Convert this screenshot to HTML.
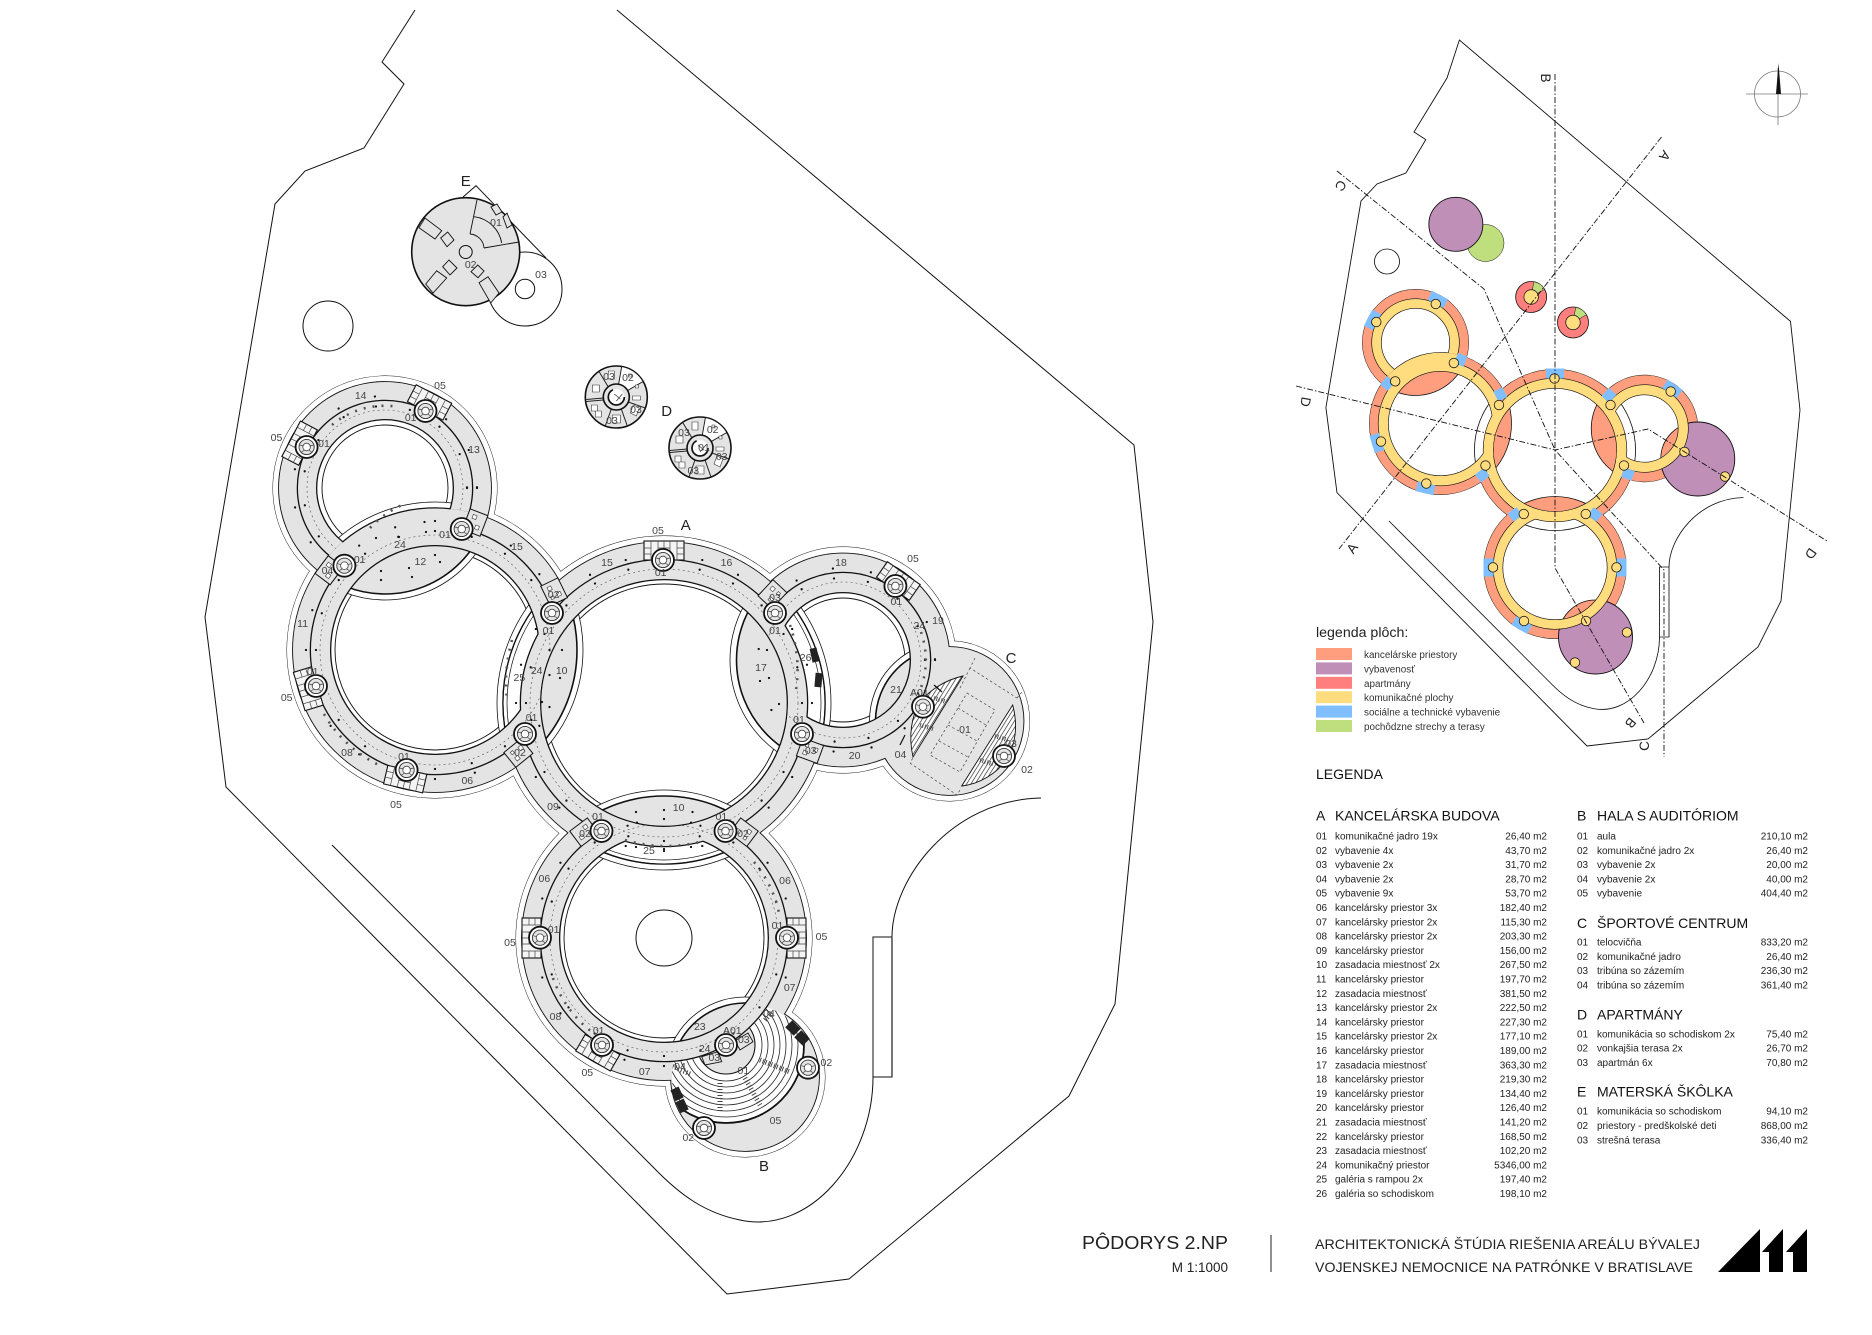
<!DOCTYPE html>
<html lang="sk"><head><meta charset="utf-8"><title>Pôdorys 2.NP</title>
<style>
html,body{margin:0;padding:0;background:#fff}
svg{display:block}
text{font-family:"Liberation Sans",sans-serif}
.l{font-size:10.5px;fill:#444;text-anchor:middle}
.b{font-size:15px;fill:#222;text-anchor:middle}
.r{font-size:10px;fill:#222}
.e{font-size:10px;fill:#222;text-anchor:end}
.h{font-size:14px;fill:#111}
.k{font-size:9.9px;fill:#333}
.s{font-size:13.5px;fill:#222;text-anchor:middle}
</style></head><body>
<svg xmlns="http://www.w3.org/2000/svg" width="1872" height="1335" viewBox="0 0 1872 1335">
<defs>
<mask id="nA" maskUnits="userSpaceOnUse" x="-100" y="-300" width="2100" height="1800"><rect x="-100" y="-300" width="2100" height="1800" fill="#fff"/><circle cx="435" cy="650" r="142"/><circle cx="664" cy="938" r="142"/><circle cx="843" cy="660" r="106.5"/></mask>
<mask id="nL" maskUnits="userSpaceOnUse" x="-100" y="-300" width="2100" height="1800"><rect x="-100" y="-300" width="2100" height="1800" fill="#fff"/><circle cx="664" cy="703" r="161"/><circle cx="385" cy="488" r="106"/></mask>
<mask id="nB" maskUnits="userSpaceOnUse" x="-100" y="-300" width="2100" height="1800"><rect x="-100" y="-300" width="2100" height="1800" fill="#fff"/><circle cx="664" cy="703" r="161"/><circle cx="745" cy="1077" r="74"/></mask>
<mask id="nU" maskUnits="userSpaceOnUse" x="-100" y="-300" width="2100" height="1800"><rect x="-100" y="-300" width="2100" height="1800" fill="#fff"/><circle cx="435" cy="650" r="142"/></mask>
<mask id="nR" maskUnits="userSpaceOnUse" x="-100" y="-300" width="2100" height="1800"><rect x="-100" y="-300" width="2100" height="1800" fill="#fff"/><circle cx="664" cy="703" r="161"/><circle cx="949.5" cy="721" r="74"/></mask>
<mask id="tA" maskUnits="userSpaceOnUse" x="-100" y="-300" width="2100" height="1800"><rect x="-100" y="-300" width="2100" height="1800" fill="#fff"/><circle cx="435" cy="650" r="148"/><circle cx="664" cy="938" r="148"/><circle cx="843" cy="660" r="113"/></mask>
<mask id="tL" maskUnits="userSpaceOnUse" x="-100" y="-300" width="2100" height="1800"><rect x="-100" y="-300" width="2100" height="1800" fill="#fff"/><circle cx="664" cy="703" r="167"/><circle cx="385" cy="488" r="112"/></mask>
<mask id="tB" maskUnits="userSpaceOnUse" x="-100" y="-300" width="2100" height="1800"><rect x="-100" y="-300" width="2100" height="1800" fill="#fff"/><circle cx="664" cy="703" r="167"/><circle cx="745" cy="1077" r="80"/></mask>
<mask id="tU" maskUnits="userSpaceOnUse" x="-100" y="-300" width="2100" height="1800"><rect x="-100" y="-300" width="2100" height="1800" fill="#fff"/><circle cx="435" cy="650" r="148"/></mask>
<mask id="tR" maskUnits="userSpaceOnUse" x="-100" y="-300" width="2100" height="1800"><rect x="-100" y="-300" width="2100" height="1800" fill="#fff"/><circle cx="664" cy="703" r="167"/><circle cx="949.5" cy="721" r="80"/></mask>
<mask id="cor" maskUnits="userSpaceOnUse" x="-100" y="-300" width="2100" height="1800"><rect x="-100" y="-300" width="2100" height="1800" fill="#fff"/><circle cx="664" cy="703" r="124"/></mask>
<mask id="corU" maskUnits="userSpaceOnUse" x="-100" y="-300" width="2100" height="1800"><rect x="-100" y="-300" width="2100" height="1800" fill="#fff"/><circle cx="435" cy="650" r="142"/></mask>
<mask id="aud" maskUnits="userSpaceOnUse" x="-100" y="-300" width="2100" height="1800"><rect x="-100" y="-300" width="2100" height="1800" fill="#fff"/><circle cx="664" cy="938" r="124.5"/></mask>
<clipPath id="cA"><circle cx="664" cy="703" r="124"/></clipPath>
<clipPath id="cL"><circle cx="435" cy="650" r="105"/></clipPath>
<clipPath id="cB"><circle cx="664" cy="938" r="105"/></clipPath>
<clipPath id="cU"><circle cx="385" cy="488" r="69"/></clipPath>
<clipPath id="cR"><circle cx="843" cy="660" r="68"/></clipPath>
<clipPath id="gal"><circle cx="435" cy="650" r="105"/><circle cx="664" cy="938" r="105"/><circle cx="843" cy="660" r="68"/></clipPath>
<clipPath id="pU"><circle cx="385" cy="488" r="87"/></clipPath>
<clipPath id="hall"><circle cx="745" cy="1077" r="73"/></clipPath>
<pattern id="hat" patternUnits="userSpaceOnUse" width="3.6" height="3.6" patternTransform="rotate(-58)"><rect width="3.6" height="3.6" fill="#fff"/><rect width="3.6" height="0.7" fill="#333"/></pattern>
<g id="core"><circle r="11" fill="#fff" stroke="#111" stroke-width="1.8"/><circle r="7.6" fill="#e4e4e4" stroke="#333" stroke-width="0.9"/><circle r="3.8" fill="#fff" stroke="#444" stroke-width="0.8"/><path d="M-7,-2L-3,-1M7,-2L3,-1M-5,5L-2,3M5,5L2,3" stroke="#444" stroke-width="0.7"/></g>
<g id="w05"><rect x="0" y="-20" width="19" height="40" fill="#f4f4f4" stroke="#111" stroke-width="1.1"/><path d="M0,-13H19M0,-6H19M0,6H19M0,13H19M6,-20V-13M12,-20V-13M6,-6V6M12,-6V6M6,13V20M12,13V20M0,0H19" stroke="#444" stroke-width="0.7" fill="none"/></g>
<g id="w02"><rect x="0" y="-11" width="19" height="22" fill="#e4e4e4" stroke="#111" stroke-width="1"/><path d="M5,-7h4v4h-4zM11,2h4v4h-4zM4,3h3v3h-3z" fill="#fff" stroke="#333" stroke-width="0.6"/></g>
<rect id="kw05" x="0" y="-18" width="20" height="36" fill="#7FBFFF"/>
<rect id="kw02" x="0" y="-11" width="20" height="22" fill="#7FBFFF"/>
<circle id="kc" r="9.5" fill="#FFDD7F" stroke="#111" stroke-width="1.6"/>
<g id="apt"><circle r="31" fill="#e4e4e4" stroke="#111" stroke-width="1.6"/>
<path d="M5.4,-30.5A31,31 0 0 1 26.8,-15.5L11.3,-6.5A13,13 0 0 0 2.3,-12.8Z" fill="#fff" stroke="#111" stroke-width="0.9"/>
<path d="M12,5L29,11M5,12L11,29M-5,12L-11,29M-13,1L-30,2.5M-13,3L-30,4.5M-8,-10L-17,-25" stroke="#222" stroke-width="1" fill="none"/>
<path d="M-24,-12h7v7h-7zM-25,8h6v6h-6zM-21,14h6v6h-6zM-8,-26h6v8h-6zM-4,18h8v8h-8zM16,-1h8v4h-8zM17,8l6,3l-3,8l-6,-3zM12,-23h3v3h-3zM19,-12h3v3h-3z" fill="#fff" stroke="#333" stroke-width="0.6"/>
<circle r="13" fill="#e4e4e4" stroke="#111" stroke-width="1.6"/><circle r="8" fill="#fff" stroke="#111" stroke-width="1.7" stroke-dasharray="34 16"/><path d="M-2,-3L4,2M0,4L6,-3" stroke="#333" stroke-width="0.7"/></g>
</defs>
<rect width="1872" height="1335" fill="#fff"/>

<g fill="none" stroke="#111" stroke-width="1">
<path d="M415,10L382,62L404,84L364,148L305,171L275,204L205,617L226,787L727,1294L849,1279L1069,1096L1115,1004L1153,622L1134,445L617,10"/>
<path d="M332,845L653,1167C680,1195 705,1213 740,1220C810,1235 873,1160 873,1077V937H892V1077H873M892,937C892,880 950,800 1041,798"/>
<circle cx="328" cy="326" r="25"/>
</g>
<path d="M892,938V1076" stroke="#777" stroke-width="2" fill="none"/>

<path d="M463,197L476,185.7L546,258" fill="none" stroke="#111"/>
<circle cx="525" cy="289" r="37" fill="#fff" stroke="#111"/>
<circle cx="525" cy="289" r="9.7" fill="#fff" stroke="#111"/>
<circle cx="465.7" cy="251.7" r="54" fill="#e4e4e4" stroke="#111" stroke-width="1.6"/>
<path d="M477,200L470,234M484,248L519,242M474,216.7A32,32 0 0 1 501.7,243M470,234A15,15 0 0 1 484,248" fill="none" stroke="#111" stroke-width="0.9"/>
<g fill="#e4e4e4" stroke="#111" stroke-width="0.9"><path d="M419,227.7L425,218L441.7,230.7L435,239Z"/><path d="M425.7,284L436.7,270.7L446.7,278L433,293Z"/><path d="M479,282.7L488,276.7L499,293L490.7,303Z"/><path d="M440.7,238L447.7,232L454,240L447,246.7Z"/><path d="M442.7,266.7L449,260L457,268L450,275Z"/><path d="M471,271.7L477.7,265L484,271L478,277.7Z"/><path d="M491,207L497,204L502,212L496,215Z"/><path d="M503,217L507,213L512,225L507,228Z"/></g>
<circle cx="465.7" cy="252" r="6.5" fill="#e4e4e4" stroke="#111"/>
<use href="#apt" x="616.3" y="397"/><use href="#apt" x="700" y="448"/>

<g fill="#fff" stroke="#111" stroke-width="0.9"><circle cx="664" cy="703" r="167"/><circle cx="435" cy="650" r="148"/><circle cx="664" cy="938" r="148"/><circle cx="385" cy="488" r="112"/><circle cx="843" cy="660" r="113"/><circle cx="745" cy="1077" r="80"/><circle cx="949.5" cy="721" r="80"/></g>
<g fill="#fff"><circle cx="664" cy="703" r="167"/><circle cx="435" cy="650" r="148"/><circle cx="664" cy="938" r="148"/><circle cx="385" cy="488" r="112"/><circle cx="843" cy="660" r="113"/><circle cx="745" cy="1077" r="80"/><circle cx="949.5" cy="721" r="80"/></g>
<g fill="#e4e4e4" stroke="#111" stroke-width="1.8"><circle cx="664" cy="703" r="161"/><circle cx="435" cy="650" r="142"/><circle cx="664" cy="938" r="142"/><circle cx="385" cy="488" r="106"/><circle cx="843" cy="660" r="106.5"/><circle cx="745" cy="1077" r="74"/><circle cx="949.5" cy="721" r="74"/></g>
<g fill="#e4e4e4"><circle cx="664" cy="703" r="161"/><circle cx="435" cy="650" r="142"/><circle cx="664" cy="938" r="142"/><circle cx="385" cy="488" r="106"/><circle cx="843" cy="660" r="106.5"/><circle cx="745" cy="1077" r="74"/><circle cx="949.5" cy="721" r="74"/></g>
<g clip-path="url(#cA)"><rect x="500" y="560" width="330" height="290" fill="#fff" mask="url(#nA)"/><g fill="none"><g stroke="#111" stroke-width="0.8"><circle cx="435" cy="650" r="148"/><circle cx="664" cy="938" r="148"/><circle cx="843" cy="660" r="113"/></g><g stroke="#111" stroke-width="1.6"><circle cx="435" cy="650" r="142"/><circle cx="664" cy="938" r="142"/><circle cx="843" cy="660" r="106.5"/></g></g></g>
<g clip-path="url(#cL)"><rect x="320" y="530" width="230" height="240" fill="#fff" mask="url(#nL)"/><g fill="none"><g stroke="#111" stroke-width="0.8"><circle cx="664" cy="703" r="167"/><circle cx="385" cy="488" r="112"/></g><g stroke="#111" stroke-width="1.6"><circle cx="664" cy="703" r="161"/><circle cx="385" cy="488" r="106"/></g></g></g>
<g clip-path="url(#cB)"><rect x="550" y="820" width="230" height="230" fill="#fff" mask="url(#nB)"/><g fill="none"><g stroke="#111" stroke-width="0.8"><circle cx="664" cy="703" r="167"/><circle cx="745" cy="1077" r="80"/></g><g stroke="#111" stroke-width="1.6"><circle cx="664" cy="703" r="161"/><circle cx="745" cy="1077" r="74"/></g></g></g>
<g clip-path="url(#cU)"><rect x="310" y="415" width="150" height="150" fill="#fff" mask="url(#nU)"/><g fill="none"><circle cx="435" cy="650" r="148" stroke="#111" stroke-width="0.8"/><circle cx="435" cy="650" r="142" stroke="#111" stroke-width="1.6"/></g></g>
<g clip-path="url(#cR)"><rect x="770" y="590" width="150" height="150" fill="#fff" mask="url(#nR)"/><g fill="none"><g stroke="#111" stroke-width="0.8"><circle cx="664" cy="703" r="167"/><circle cx="949.5" cy="721" r="80"/></g><g stroke="#111" stroke-width="1.6"><circle cx="664" cy="703" r="161"/><circle cx="949.5" cy="721" r="74"/></g></g></g>
<g fill="none" stroke="#111" stroke-width="0.9">
<circle cx="664" cy="703" r="119" mask="url(#tA)"/><circle cx="435" cy="650" r="100" mask="url(#tL)"/><circle cx="664" cy="938" r="100" mask="url(#tB)"/><circle cx="385" cy="488" r="63" mask="url(#tU)"/><circle cx="843" cy="660" r="62" mask="url(#tR)"/>
</g>
<g clip-path="url(#gal)"><circle cx="664" cy="703" r="152" fill="none" stroke="#fff" stroke-width="17"/><circle cx="664" cy="703" r="161" fill="none" stroke="#111" stroke-width="1.1"/><circle cx="664" cy="703" r="157" fill="none" stroke="#111" stroke-width="0.7"/></g>
<g fill="none" stroke="#111">
<circle cx="664" cy="703" r="133.5" stroke-width="21.6"/>
<circle cx="435" cy="650" r="114.5" stroke-width="21.6" mask="url(#cor)"/>
<circle cx="664" cy="938" r="114" stroke-width="20.6" mask="url(#cor)"/>
<circle cx="843" cy="660" r="77.5" stroke-width="21.6" mask="url(#cor)"/>
<circle cx="385" cy="488" r="78" stroke-width="20.6" mask="url(#corU)"/>
</g>
<g fill="none" stroke="#e4e4e4">
<circle cx="664" cy="703" r="133.5" stroke-width="19"/>
<circle cx="435" cy="650" r="114.5" stroke-width="19" mask="url(#cor)"/>
<circle cx="664" cy="938" r="114" stroke-width="18" mask="url(#cor)"/>
<circle cx="843" cy="660" r="77.5" stroke-width="19" mask="url(#cor)"/>
<circle cx="385" cy="488" r="78" stroke-width="18" mask="url(#corU)"/>
<circle cx="435" cy="650" r="123.5" stroke-width="36" clip-path="url(#pU)"/>
</g>
<g fill="none" stroke="#555" stroke-width="0.6" stroke-dasharray="2 3">
<circle cx="664" cy="703" r="134"/><circle cx="435" cy="650" r="115" mask="url(#cor)"/><circle cx="664" cy="938" r="114" mask="url(#cor)"/><circle cx="843" cy="660" r="78" mask="url(#cor)"/><circle cx="385" cy="488" r="78" mask="url(#corU)"/>
</g>
<g fill="none" stroke="#111" stroke-width="2.3" stroke-linecap="round">
<circle cx="664" cy="703" r="148" pathLength="360" stroke-dasharray="0 15"/><circle cx="664" cy="703" r="138" pathLength="360" stroke-dasharray="0 15"/>
<circle cx="435" cy="650" r="129" pathLength="360" stroke-dasharray="0 18" mask="url(#cor)"/><circle cx="435" cy="650" r="119" pathLength="360" stroke-dasharray="0 18" mask="url(#cor)"/>
<circle cx="664" cy="938" r="128" pathLength="360" stroke-dasharray="0 18" mask="url(#cor)"/><circle cx="664" cy="938" r="118" pathLength="360" stroke-dasharray="0 18" mask="url(#cor)"/>
<circle cx="843" cy="660" r="92" pathLength="360" stroke-dasharray="0 24" mask="url(#cor)"/><circle cx="843" cy="660" r="82" pathLength="360" stroke-dasharray="0 24" mask="url(#cor)"/>
<circle cx="385" cy="488" r="92" pathLength="360" stroke-dasharray="0 24" mask="url(#corU)"/><circle cx="385" cy="488" r="82" pathLength="360" stroke-dasharray="0 24" mask="url(#corU)"/>
<path d="M381,571h0M381,580h0M409,568h0M412,577h0M435,555h0M440,562h0M376,538h0M399,537h0M424.5,522h0M426,532h0M562,650h0M549.5,650h0M549.5,675h0M560,678h0M542,702h0M549.5,707h0M758.7,649h0M767,650h0M769,678h0M760,681h0M779,704h0M771.4,710h0M636,812h0M664,810h0M692.5,812h0M637,822.7h0M664,819h0M691,822.7h0M636,847h0M664,849h0M691,847h0"/>
</g>
<g fill="none" stroke="#555" stroke-width="2.6" stroke-dasharray="2 7">
<path d="M324,714A128,128 0 0 0 381,766"/><path d="M332,425A82,82 0 0 1 399,407"/><path d="M754,862A118,118 0 0 1 780,918"/><path d="M553,978A118,118 0 0 0 596,1035"/><path d="M921,632A83,83 0 0 1 918,695"/><path d="M512,640A157,157 0 0 0 507,700"/><path d="M790,625A135,135 0 0 1 796,690"/><path d="M625,840A143,143 0 0 0 700,842"/><path d="M370,528A100,100 0 0 1 402,505"/>
</g>
<g fill="#222"><rect x="811" y="648" width="7" height="14" transform="rotate(-12 815 655)"/><rect x="815" y="673" width="7" height="14" transform="rotate(5 818 680)"/></g>
<use href="#w05" transform="translate(385 488) rotate(-62.5) translate(87 0)"/>
<use href="#w05" transform="translate(385 488) rotate(207.7) translate(87 0)"/>
<use href="#w02" transform="translate(385 488) rotate(21) translate(87 0)"/>
<use href="#w02" transform="translate(435 650) rotate(217) translate(123 0)"/>
<use href="#w02" transform="translate(435 650) rotate(-26) translate(123 0)"/>
<use href="#w02" transform="translate(435 650) rotate(51) translate(123 0)"/>
<use href="#w05" transform="translate(435 650) rotate(163) translate(123 0)"/>
<use href="#w05" transform="translate(435 650) rotate(103) translate(123 0)"/>
<use href="#w05" transform="translate(664 703) rotate(-90) translate(143 0)"/>
<use href="#w05" transform="translate(843 660) rotate(-55) translate(87 0)"/>
<use href="#w02" transform="translate(843 660) rotate(223) translate(87 0)"/>
<use href="#w02" transform="translate(843 660) rotate(110) translate(87 0)"/>
<use href="#w02" transform="translate(664 938) rotate(233) translate(123 0)"/>
<use href="#w02" transform="translate(664 938) rotate(307) translate(123 0)"/>
<use href="#w05" transform="translate(664 938) rotate(180) translate(123 0)"/>
<use href="#w05" transform="translate(664 938) translate(123 0)"/>
<use href="#w05" transform="translate(664 938) rotate(120) translate(123 0)"/>

<g clip-path="url(#hall)"><g mask="url(#aud)">
<circle cx="726" cy="1045" r="78" fill="#fff" stroke="#111" stroke-width="1.8"/>
<g fill="none" stroke="#222" stroke-width="0.8"><circle cx="726" cy="1045" r="36"/><circle cx="726" cy="1045" r="42"/><circle cx="726" cy="1045" r="48"/><circle cx="726" cy="1045" r="54"/><circle cx="726" cy="1045" r="60"/><circle cx="726" cy="1045" r="66"/><circle cx="726" cy="1045" r="72"/></g>
<circle cx="726" cy="1045" r="29" fill="#e4e4e4" stroke="#111" stroke-width="1.1"/>
<g fill="none" stroke="#444" stroke-width="5" stroke-dasharray="1 2"><path d="M720,1083V1113"/><path d="M745,1078L760,1105"/><path d="M760,1060L790,1072"/><path d="M690,1074L672,1066"/><path d="M765,1020L772,1012"/></g>
</g></g>
<path d="M701.7,1056.7L718,1051.7L721.7,1061.7L705,1065ZM735,1040.7L748,1033L753,1041.7L740,1050Z" fill="#e4e4e4" stroke="#111" stroke-width="0.9"/>
<g fill="#222"><rect x="673" y="1088" width="9" height="12" transform="rotate(-25 677 1095)"/><rect x="678" y="1100" width="9" height="12" transform="rotate(-25 682 1107)"/><rect x="788" y="1022" width="10" height="12" transform="rotate(-45 793 1028)"/><rect x="797" y="1032" width="10" height="12" transform="rotate(-45 802 1038)"/></g>
<path d="M963,676C945,680 930,690 920,702C912,715 908,735 913,757Z" fill="url(#hat)" stroke="#111" stroke-width="0.9"/>
<path d="M1012.7,705C1018,725 1016,745 1006,760C997,773 980,784 961.7,786Z" fill="url(#hat)" stroke="#111" stroke-width="0.9"/>
<g fill="none" stroke="#444" stroke-width="0.7" stroke-dasharray="2.5 2.5">
<path d="M975,658L970,668L1017,698M910,763L957,795L960,790M970,668L960,688M920,745L910,763M967,693L995,710L960,772L930,755ZM958,708L986,725M948,725L977,741M939,741L968,757M1017,698L1022,692"/>
</g>
<path d="M934,685L942,692M905,735L900,745" stroke="#111" stroke-width="1.2" fill="none"/>
<g fill="none" stroke="#555" stroke-width="4.5" stroke-dasharray="1 1.5"><path d="M934,698L947,702"/><path d="M920,725L933,729"/><path d="M995,736L1008,740"/><path d="M980,760L993,764"/></g>
<use href="#core" x="425.5" y="411"/><use href="#core" x="306.6" y="447"/><use href="#core" x="461.7" y="529"/><use href="#core" x="344.4" y="565.7"/><use href="#core" x="552" y="613"/><use href="#core" x="663" y="560"/><use href="#core" x="775" y="613"/><use href="#core" x="895.4" y="586"/><use href="#core" x="923" y="706.7"/><use href="#core" x="802" y="734"/><use href="#core" x="525" y="734"/><use href="#core" x="406.6" y="770"/><use href="#core" x="316" y="686"/><use href="#core" x="601.5" y="831"/><use href="#core" x="725.5" y="831"/><use href="#core" x="540" y="937.7"/><use href="#core" x="787" y="937.7"/><use href="#core" x="602" y="1045"/><use href="#core" x="726" y="1045"/><use href="#core" x="808" y="1067.7"/><use href="#core" x="704" y="1128"/><use href="#core" x="1004" y="756"/>
<circle cx="664" cy="938" r="28" fill="#fff" stroke="#111"/>

<g>
<text class="l" x="440" y="389">05</text><text class="l" x="360.7" y="399">14</text><text class="l" x="474" y="453">13</text><text class="l" x="410.7" y="421">01</text><text class="l" x="276.5" y="441">05</text><text class="l" x="324" y="447">01</text><text class="l" x="420.4" y="565">12</text><text class="l" x="400" y="548">24</text><text class="l" x="445" y="538">01</text><text class="l" x="517" y="550">15</text><text class="l" x="359.7" y="563">01</text><text class="l" x="327.5" y="574">04</text><text class="l" x="607" y="566">15</text><text class="l" x="658" y="534">05</text><text class="l" x="726.5" y="566">16</text><text class="l" x="660.7" y="576">01</text><text class="l" x="553.6" y="598">02</text><text class="l" x="548.5" y="634">01</text><text class="l" x="775" y="601">03</text><text class="l" x="775" y="634">01</text><text class="l" x="841" y="566">18</text><text class="l" x="913" y="562">05</text><text class="l" x="896.4" y="605">01</text><text class="l" x="938" y="624">19</text><text class="l" x="919.4" y="629">24</text><text class="l" x="805.6" y="661">26</text><text class="l" x="761" y="671">17</text><text class="l" x="561.7" y="674">10</text><text class="l" x="536.7" y="674">24</text><text class="l" x="519.4" y="681">25</text><text class="l" x="302.6" y="627">11</text><text class="l" x="312.7" y="675">01</text><text class="l" x="286.7" y="701">05</text><text class="l" x="896" y="693">21</text><text class="l" x="919.4" y="696">A01</text><text class="l" x="531.6" y="721">01</text><text class="l" x="799" y="723">01</text><text class="l" x="520" y="756">02</text><text class="l" x="810.7" y="754">03</text><text class="l" x="347" y="756">08</text><text class="l" x="404" y="760">01</text><text class="l" x="467.3" y="784">06</text><text class="l" x="396" y="808">05</text><text class="l" x="854.6" y="759">20</text><text class="l" x="900.5" y="758">04</text><text class="l" x="965" y="733">01</text><text class="l" x="553" y="810">09</text><text class="l" x="678.6" y="811">10</text><text class="l" x="598" y="820">01</text><text class="l" x="721.4" y="820">01</text><text class="l" x="585" y="837">02</text><text class="l" x="743" y="837">02</text><text class="l" x="649" y="854">25</text><text class="l" x="544.4" y="882">06</text><text class="l" x="785" y="884">06</text><text class="l" x="777.5" y="929">01</text><text class="l" x="553.6" y="933">01</text><text class="l" x="821.5" y="940">05</text><text class="l" x="510" y="946">05</text><text class="l" x="789.7" y="991">07</text><text class="l" x="555.5" y="1020">08</text><text class="l" x="699.8" y="1030">23</text><text class="l" x="598.7" y="1034">01</text><text class="l" x="732.3" y="1034">A01</text><text class="l" x="769" y="1017">04</text><text class="l" x="743.8" y="1043">03</text><text class="l" x="704.7" y="1052">24</text><text class="l" x="714.3" y="1061">03</text><text class="l" x="826.4" y="1066">02</text><text class="l" x="680" y="1070">04</text><text class="l" x="743.4" y="1074">01</text><text class="l" x="644.7" y="1075">07</text><text class="l" x="587.3" y="1076">05</text><text class="l" x="775.5" y="1124">05</text><text class="l" x="688.3" y="1141">02</text><text class="l" x="496" y="226">01</text><text class="l" x="470.7" y="268">02</text><text class="l" x="541" y="278">03</text><text class="l" x="609" y="380">03</text><text class="l" x="628" y="381">02</text><text class="l" x="636" y="413">03</text><text class="l" x="612" y="424">03</text><text class="l" x="704" y="451">01</text><text class="l" x="712.7" y="433">02</text><text class="l" x="684" y="436">03</text><text class="l" x="721.7" y="460">03</text><text class="l" x="693.3" y="474">03</text><text class="l" x="1011" y="747">03</text><text class="l" x="1027" y="773">02</text>
<text class="b" x="685.7" y="530">A</text><text class="b" x="764" y="1171">B</text><text class="b" x="1011" y="663">C</text><text class="b" x="666.7" y="416">D</text><text class="b" x="465.7" y="186">E</text>
</g>

<path d="M1459.4,40L1447,78L1414,132L1425.8,139.6L1405.9,173L1377,184L1361,201L1325.9,407.6L1337,492.7L1587,746L1648,739L1758,647L1781,601L1800,410L1790.5,321.4Z" fill="none" stroke="#111" stroke-width="0.9"/>
<g transform="translate(1223 98.5) scale(.5)">
<path d="M332,845L653,1167C680,1195 705,1213 740,1220C810,1235 873,1160 873,1077V937H892V1077H873M892,937C892,880 950,800 1041,798" fill="none" stroke="#111" stroke-width="1.7"/>
<circle cx="328" cy="326" r="25" fill="#fff" stroke="#111" stroke-width="1.7"/>
<g fill="#FF9E7F" stroke="#111" stroke-width="1.8"><circle cx="664" cy="703" r="161"/><circle cx="435" cy="650" r="142"/><circle cx="664" cy="938" r="142"/><circle cx="385" cy="488" r="106"/><circle cx="843" cy="660" r="106.5"/></g>
<g fill="#FF9E7F"><circle cx="664" cy="703" r="161"/><circle cx="435" cy="650" r="142"/><circle cx="664" cy="938" r="142"/><circle cx="385" cy="488" r="106"/><circle cx="843" cy="660" r="106.5"/></g>
<g fill="#C08FB8" stroke="#111" stroke-width="1.8"><circle cx="745" cy="1077" r="74"/><circle cx="949.5" cy="721" r="74"/></g>
<g clip-path="url(#cB)"><circle cx="745" cy="1077" r="74" fill="#FF9E7F"/></g><g clip-path="url(#cR)"><circle cx="949.5" cy="721" r="74" fill="#FF9E7F"/></g>
<g clip-path="url(#cA)"><rect x="500" y="560" width="330" height="290" fill="#fff" mask="url(#nA)"/><g fill="none" stroke="#111" stroke-width="1.6"><circle cx="435" cy="650" r="142"/><circle cx="664" cy="938" r="142"/><circle cx="843" cy="660" r="106.5"/></g></g>
<g clip-path="url(#cL)"><rect x="320" y="530" width="230" height="240" fill="#fff" mask="url(#nL)"/><g fill="none" stroke="#111" stroke-width="1.6"><circle cx="664" cy="703" r="161"/><circle cx="385" cy="488" r="106"/></g></g>
<g clip-path="url(#cB)"><rect x="550" y="820" width="230" height="230" fill="#fff" mask="url(#nB)"/><g fill="none" stroke="#111" stroke-width="1.6"><circle cx="664" cy="703" r="161"/><circle cx="745" cy="1077" r="74"/></g></g>
<g clip-path="url(#cU)"><rect x="310" y="415" width="150" height="150" fill="#fff" mask="url(#nU)"/><circle cx="435" cy="650" r="142" fill="none" stroke="#111" stroke-width="1.6"/></g>
<g clip-path="url(#cR)"><rect x="770" y="590" width="150" height="150" fill="#fff" mask="url(#nR)"/><g fill="none" stroke="#111" stroke-width="1.6"><circle cx="664" cy="703" r="161"/><circle cx="949.5" cy="721" r="74"/></g></g>
<g clip-path="url(#gal)"><circle cx="664" cy="703" r="152" fill="none" stroke="#fff" stroke-width="19"/><circle cx="664" cy="703" r="161" fill="none" stroke="#111" stroke-width="1.5"/></g>
<g fill="none" stroke="#111">
<circle cx="664" cy="703" r="133.5" stroke-width="21.6"/>
<circle cx="435" cy="650" r="114.5" stroke-width="21.6" mask="url(#cor)"/>
<circle cx="664" cy="938" r="114" stroke-width="20.6" mask="url(#cor)"/>
<circle cx="843" cy="660" r="77.5" stroke-width="21.6" mask="url(#cor)"/>
<circle cx="385" cy="488" r="78" stroke-width="20.6" mask="url(#corU)"/>
</g>
<g fill="none" stroke="#FFDD7F">
<circle cx="664" cy="703" r="133.5" stroke-width="19"/>
<circle cx="435" cy="650" r="114.5" stroke-width="19" mask="url(#cor)"/>
<circle cx="664" cy="938" r="114" stroke-width="18" mask="url(#cor)"/>
<circle cx="843" cy="660" r="77.5" stroke-width="19" mask="url(#cor)"/>
<circle cx="385" cy="488" r="78" stroke-width="18" mask="url(#corU)"/>
<circle cx="435" cy="650" r="123.5" stroke-width="36" clip-path="url(#pU)"/>
</g>
<use href="#kw05" transform="translate(385 488) rotate(-62.5) translate(87 0)"/>
<use href="#kw05" transform="translate(385 488) rotate(207.7) translate(87 0)"/>
<use href="#kw02" transform="translate(385 488) rotate(21) translate(87 0)"/>
<use href="#kw02" transform="translate(435 650) rotate(217) translate(123 0)"/>
<use href="#kw02" transform="translate(435 650) rotate(-26) translate(123 0)"/>
<use href="#kw02" transform="translate(435 650) rotate(51) translate(123 0)"/>
<use href="#kw05" transform="translate(435 650) rotate(163) translate(123 0)"/>
<use href="#kw05" transform="translate(435 650) rotate(103) translate(123 0)"/>
<use href="#kw05" transform="translate(664 703) rotate(-90) translate(143 0)"/>
<use href="#kw05" transform="translate(843 660) rotate(-55) translate(87 0)"/>
<use href="#kw02" transform="translate(843 660) rotate(223) translate(87 0)"/>
<use href="#kw02" transform="translate(843 660) rotate(110) translate(87 0)"/>
<use href="#kw02" transform="translate(664 938) rotate(233) translate(123 0)"/>
<use href="#kw02" transform="translate(664 938) rotate(307) translate(123 0)"/>
<use href="#kw05" transform="translate(664 938) rotate(180) translate(123 0)"/>
<use href="#kw05" transform="translate(664 938) translate(123 0)"/>
<use href="#kw05" transform="translate(664 938) rotate(120) translate(123 0)"/>
<use href="#kc" x="425.5" y="411"/><use href="#kc" x="306.6" y="447"/><use href="#kc" x="461.7" y="529"/><use href="#kc" x="344.4" y="565.7"/><use href="#kc" x="552" y="613"/><use href="#kc" x="663" y="560"/><use href="#kc" x="775" y="613"/><use href="#kc" x="895.4" y="586"/><use href="#kc" x="923" y="706.7"/><use href="#kc" x="802" y="734"/><use href="#kc" x="525" y="734"/><use href="#kc" x="406.6" y="770"/><use href="#kc" x="316" y="686"/><use href="#kc" x="601.5" y="831"/><use href="#kc" x="725.5" y="831"/><use href="#kc" x="540" y="937.7"/><use href="#kc" x="787" y="937.7"/><use href="#kc" x="602" y="1045"/><use href="#kc" x="726" y="1045"/><use href="#kc" x="808" y="1067.7"/><use href="#kc" x="704" y="1128"/><use href="#kc" x="1004" y="756"/>
<circle cx="525" cy="289" r="37" fill="#BFDF7F" stroke="#111" stroke-width="1"/>
<circle cx="465.7" cy="251.7" r="54" fill="#C08FB8" stroke="#111" stroke-width="1.8"/>
<g stroke="#111" stroke-width="1.6"><circle cx="616.3" cy="397" r="31" fill="#FF7F7F"/><circle cx="700" cy="448" r="31" fill="#FF7F7F"/></g>
<path d="M621.7,366.5A31,31 0 0 1 643.1,381.5L627.6,390.5A13,13 0 0 0 618.6,384.2Z" fill="#BFDF7F" stroke="#111" stroke-width="1"/>
<path d="M705.4,417.5A31,31 0 0 1 726.8,432.5L711.3,441.5A13,13 0 0 0 702.3,435.2Z" fill="#BFDF7F" stroke="#111" stroke-width="1"/>
<circle cx="616.3" cy="397" r="14.5" fill="#FFDD7F" stroke="#111" stroke-width="1.5"/><circle cx="700" cy="448" r="14.5" fill="#FFDD7F" stroke="#111" stroke-width="1.5"/>
</g>
<g fill="none" stroke="#111" stroke-width="0.9" stroke-dasharray="6 2 1.5 2">
<path d="M1555,74V568L1644,723"/><path d="M1661.5,137L1339,549"/><path d="M1337,171L1484,289L1555,450L1664,570V757"/><path d="M1296,386L1555,450L1648,429L1827,541"/>
</g>
<g>
<text class="s" transform="translate(1541 78) rotate(90)">B</text>
<text class="s" transform="translate(1627 720) rotate(130)">B</text>
<text class="s" transform="translate(1661 153) rotate(125)">A</text>
<text class="s" transform="translate(1356 551) rotate(-55)">A</text>
<text class="s" transform="translate(1337 183) rotate(125)">C</text>
<text class="s" transform="translate(1649 746) rotate(-90)">C</text>
<text class="s" transform="translate(1301 401) rotate(100)">D</text>
<text class="s" transform="translate(1807 551) rotate(125)">D</text>
</g>
<g fill="none" stroke="#777" stroke-width="0.8"><ellipse cx="1777.5" cy="94" rx="23" ry="23"/><path d="M1746,94H1808M1778,68V125"/></g>
<path d="M1778.5,63L1776,94H1781Z" fill="#111"/>

<text x="1316" y="637" style="font-size:14.2px;fill:#222">legenda plôch:</text>
<rect x="1316" y="648" width="36" height="12" fill="#FF9E7F"/><rect x="1316" y="662.4" width="36" height="12" fill="#C08FB8"/><rect x="1316" y="676.8" width="36" height="12" fill="#FF7F7F"/><rect x="1316" y="691.2" width="36" height="12" fill="#FFDD7F"/><rect x="1316" y="705.6" width="36" height="12" fill="#7FBFFF"/><rect x="1316" y="720" width="36" height="12" fill="#BFDF7F"/>
<text class="k" x="1364" y="658">kancelárske priestory</text><text class="k" x="1364" y="672.4">vybavenosť</text><text class="k" x="1364" y="686.8">apartmány</text><text class="k" x="1364" y="701.2">komunikačné plochy</text><text class="k" x="1364" y="715.6">sociálne a technické vybavenie</text><text class="k" x="1364" y="730">pochôdzne strechy a terasy</text>

<text class="h" x="1316" y="779">LEGENDA</text>
<text class="h" x="1316" y="820.7">A</text><text class="h" x="1335" y="820.7">KANCELÁRSKA BUDOVA</text>
<g>
<text class="r" x="1316" y="839.5">01</text><text class="r" x="1335" y="839.5">komunikačné jadro 19x</text><text class="e" x="1547" y="839.5">26,40 m2</text>
<text class="r" x="1316" y="853.8">02</text><text class="r" x="1335" y="853.8">vybavenie 4x</text><text class="e" x="1547" y="853.8">43,70 m2</text>
<text class="r" x="1316" y="868.1">03</text><text class="r" x="1335" y="868.1">vybavenie 2x</text><text class="e" x="1547" y="868.1">31,70 m2</text>
<text class="r" x="1316" y="882.4">04</text><text class="r" x="1335" y="882.4">vybavenie 2x</text><text class="e" x="1547" y="882.4">28,70 m2</text>
<text class="r" x="1316" y="896.7">05</text><text class="r" x="1335" y="896.7">vybavenie 9x</text><text class="e" x="1547" y="896.7">53,70 m2</text>
<text class="r" x="1316" y="911">06</text><text class="r" x="1335" y="911">kancelársky priestor 3x</text><text class="e" x="1547" y="911">182,40 m2</text>
<text class="r" x="1316" y="925.3">07</text><text class="r" x="1335" y="925.3">kancelársky priestor 2x</text><text class="e" x="1547" y="925.3">115,30 m2</text>
<text class="r" x="1316" y="939.6">08</text><text class="r" x="1335" y="939.6">kancelársky priestor 2x</text><text class="e" x="1547" y="939.6">203,30 m2</text>
<text class="r" x="1316" y="953.9">09</text><text class="r" x="1335" y="953.9">kancelársky priestor</text><text class="e" x="1547" y="953.9">156,00 m2</text>
<text class="r" x="1316" y="968.2">10</text><text class="r" x="1335" y="968.2">zasadacia miestnosť 2x</text><text class="e" x="1547" y="968.2">267,50 m2</text>
<text class="r" x="1316" y="982.5">11</text><text class="r" x="1335" y="982.5">kancelársky priestor</text><text class="e" x="1547" y="982.5">197,70 m2</text>
<text class="r" x="1316" y="996.8">12</text><text class="r" x="1335" y="996.8">zasadacia miestnosť</text><text class="e" x="1547" y="996.8">381,50 m2</text>
<text class="r" x="1316" y="1011.1">13</text><text class="r" x="1335" y="1011.1">kancelársky priestor 2x</text><text class="e" x="1547" y="1011.1">222,50 m2</text>
<text class="r" x="1316" y="1025.4">14</text><text class="r" x="1335" y="1025.4">kancelársky priestor</text><text class="e" x="1547" y="1025.4">227,30 m2</text>
<text class="r" x="1316" y="1039.7">15</text><text class="r" x="1335" y="1039.7">kancelársky priestor 2x</text><text class="e" x="1547" y="1039.7">177,10 m2</text>
<text class="r" x="1316" y="1054">16</text><text class="r" x="1335" y="1054">kancelársky priestor</text><text class="e" x="1547" y="1054">189,00 m2</text>
<text class="r" x="1316" y="1068.3">17</text><text class="r" x="1335" y="1068.3">zasadacia miestnosť</text><text class="e" x="1547" y="1068.3">363,30 m2</text>
<text class="r" x="1316" y="1082.6">18</text><text class="r" x="1335" y="1082.6">kancelársky priestor</text><text class="e" x="1547" y="1082.6">219,30 m2</text>
<text class="r" x="1316" y="1096.9">19</text><text class="r" x="1335" y="1096.9">kancelársky priestor</text><text class="e" x="1547" y="1096.9">134,40 m2</text>
<text class="r" x="1316" y="1111.2">20</text><text class="r" x="1335" y="1111.2">kancelársky priestor</text><text class="e" x="1547" y="1111.2">126,40 m2</text>
<text class="r" x="1316" y="1125.5">21</text><text class="r" x="1335" y="1125.5">zasadacia miestnosť</text><text class="e" x="1547" y="1125.5">141,20 m2</text>
<text class="r" x="1316" y="1139.8">22</text><text class="r" x="1335" y="1139.8">kancelársky priestor</text><text class="e" x="1547" y="1139.8">168,50 m2</text>
<text class="r" x="1316" y="1154.1">23</text><text class="r" x="1335" y="1154.1">zasadacia miestnosť</text><text class="e" x="1547" y="1154.1">102,20 m2</text>
<text class="r" x="1316" y="1168.4">24</text><text class="r" x="1335" y="1168.4">komunikačný priestor</text><text class="e" x="1547" y="1168.4">5346,00 m2</text>
<text class="r" x="1316" y="1182.7">25</text><text class="r" x="1335" y="1182.7">galéria s rampou 2x</text><text class="e" x="1547" y="1182.7">197,40 m2</text>
<text class="r" x="1316" y="1197">26</text><text class="r" x="1335" y="1197">galéria so schodiskom</text><text class="e" x="1547" y="1197">198,10 m2</text>
</g>
<text class="h" x="1577" y="820.7">B</text><text class="h" x="1597" y="820.7">HALA S AUDITÓRIOM</text>
<g>
<text class="r" x="1577" y="839.5">01</text><text class="r" x="1597" y="839.5">aula</text><text class="e" x="1808" y="839.5">210,10 m2</text>
<text class="r" x="1577" y="853.8">02</text><text class="r" x="1597" y="853.8">komunikačné jadro 2x</text><text class="e" x="1808" y="853.8">26,40 m2</text>
<text class="r" x="1577" y="868.1">03</text><text class="r" x="1597" y="868.1">vybavenie 2x</text><text class="e" x="1808" y="868.1">20,00 m2</text>
<text class="r" x="1577" y="882.4">04</text><text class="r" x="1597" y="882.4">vybavenie 2x</text><text class="e" x="1808" y="882.4">40,00 m2</text>
<text class="r" x="1577" y="896.7">05</text><text class="r" x="1597" y="896.7">vybavenie</text><text class="e" x="1808" y="896.7">404,40 m2</text>
</g>
<text class="h" x="1577" y="928">C</text><text class="h" x="1597" y="928">ŠPORTOVÉ CENTRUM</text>
<g>
<text class="r" x="1577" y="945.5">01</text><text class="r" x="1597" y="945.5">telocvičňa</text><text class="e" x="1808" y="945.5">833,20 m2</text>
<text class="r" x="1577" y="959.8">02</text><text class="r" x="1597" y="959.8">komunikačné jadro</text><text class="e" x="1808" y="959.8">26,40 m2</text>
<text class="r" x="1577" y="974.1">03</text><text class="r" x="1597" y="974.1">tribúna so zázemím</text><text class="e" x="1808" y="974.1">236,30 m2</text>
<text class="r" x="1577" y="988.4">04</text><text class="r" x="1597" y="988.4">tribúna so zázemím</text><text class="e" x="1808" y="988.4">361,40 m2</text>
</g>
<text class="h" x="1577" y="1019.3">D</text><text class="h" x="1597" y="1019.3">APARTMÁNY</text>
<g>
<text class="r" x="1577" y="1037.4">01</text><text class="r" x="1597" y="1037.4">komunikácia so schodiskom 2x</text><text class="e" x="1808" y="1037.4">75,40 m2</text>
<text class="r" x="1577" y="1051.7">02</text><text class="r" x="1597" y="1051.7">vonkajšia terasa 2x</text><text class="e" x="1808" y="1051.7">26,70 m2</text>
<text class="r" x="1577" y="1066">03</text><text class="r" x="1597" y="1066">apartmán 6x</text><text class="e" x="1808" y="1066">70,80 m2</text>
</g>
<text class="h" x="1577" y="1096.7">E</text><text class="h" x="1597" y="1096.7">MATERSKÁ ŠKÔLKA</text>
<g>
<text class="r" x="1577" y="1114.7">01</text><text class="r" x="1597" y="1114.7">komunikácia so schodiskom</text><text class="e" x="1808" y="1114.7">94,10 m2</text>
<text class="r" x="1577" y="1129">02</text><text class="r" x="1597" y="1129">priestory - predškolské deti</text><text class="e" x="1808" y="1129">868,00 m2</text>
<text class="r" x="1577" y="1143.3">03</text><text class="r" x="1597" y="1143.3">strešná terasa</text><text class="e" x="1808" y="1143.3">336,40 m2</text>
</g>

<text x="1082" y="1249" textLength="146" lengthAdjust="spacingAndGlyphs" style="font-size:18px;fill:#222">PÔDORYS 2.NP</text>
<text x="1228" y="1272" style="font-size:13.5px;fill:#222;text-anchor:end">M 1:1000</text>
<path d="M1271,1235V1272" stroke="#222" stroke-width="1"/>
<text x="1315" y="1249" textLength="385" lengthAdjust="spacingAndGlyphs" style="font-size:14px;fill:#222">ARCHITEKTONICKÁ ŠTÚDIA RIEŠENIA AREÁLU BÝVALEJ</text>
<text x="1315" y="1272" textLength="378" lengthAdjust="spacingAndGlyphs" style="font-size:14px;fill:#222">VOJENSKEJ NEMOCNICE NA PATRÓNKE V BRATISLAVE</text>
<g fill="#000"><path d="M1718,1272L1760,1229V1272Z"/><path d="M1762,1252L1783,1229V1272H1769V1252Z"/><path d="M1786,1252L1807,1229V1272H1793V1252Z"/></g>
</svg>
</body></html>
